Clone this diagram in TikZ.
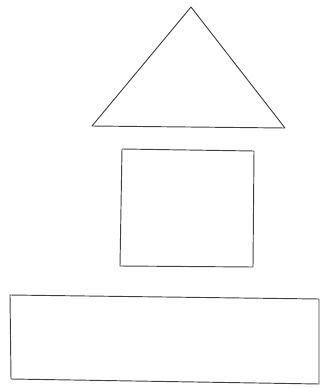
\documentclass[tikz,border=0pt]{standalone}
\begin{document}
\begin{tikzpicture}[x=0.03cm, y=-0.03cm, outline/.style={draw=black!75, line width=0.8pt, line join=round}]
    \useasboundingbox (0,0) rectangle (321,388);
    % roof
    \draw[outline] (191,7) -- (285,128) -- (92,126) -- cycle;
    % square
    \draw[outline] (122,149) -- (254,151) -- (253,267) -- (120,266) -- cycle;
    % long box
    \draw[outline] (10,295) -- (319,299) -- (319,384) -- (11,379) -- cycle;
\end{tikzpicture}
\end{document}
